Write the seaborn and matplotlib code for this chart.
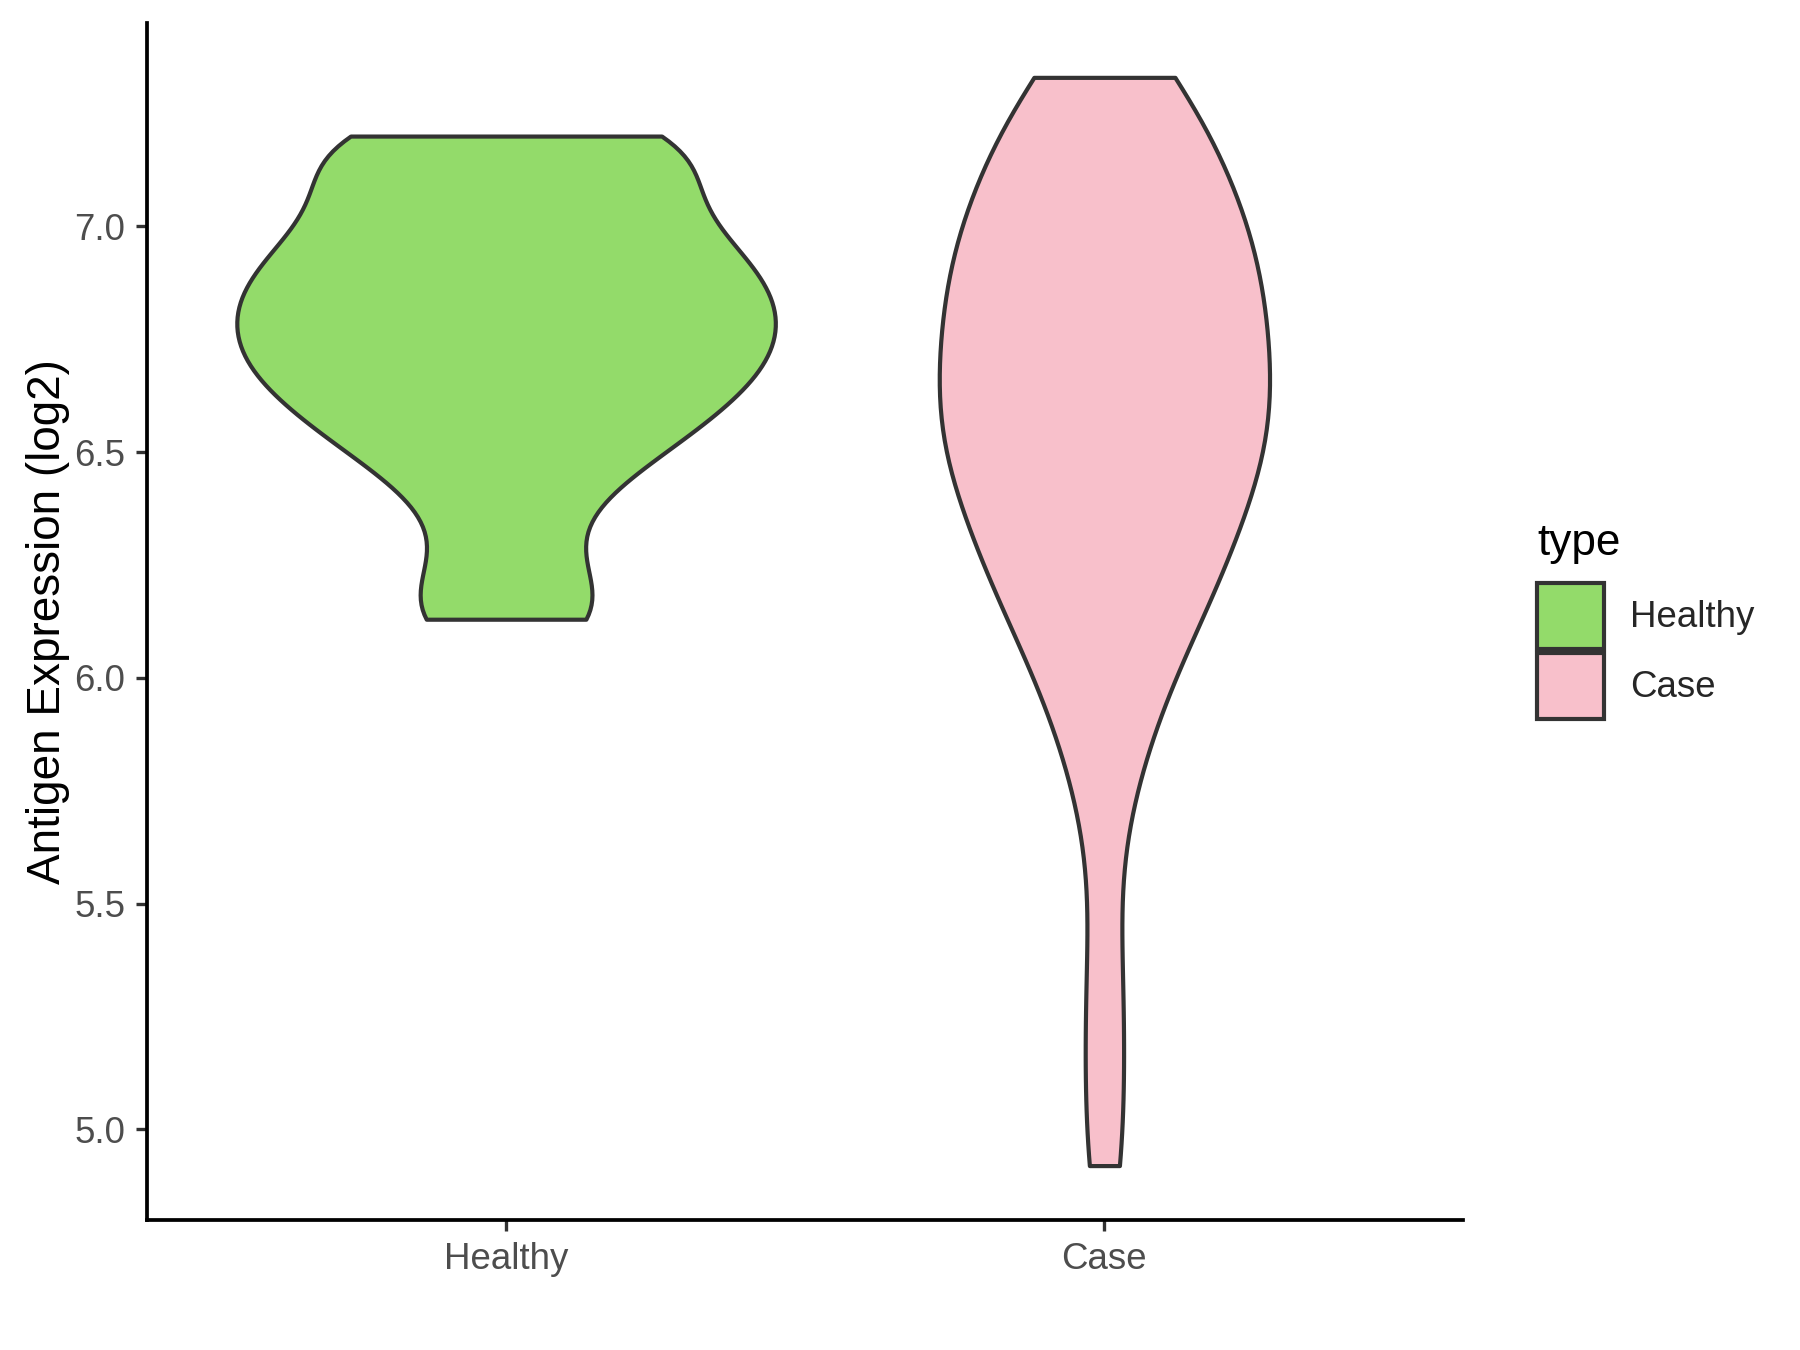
import pandas as pd
import numpy as np
import matplotlib
matplotlib.use('Agg')
import matplotlib.pyplot as plt
import seaborn as sns
from matplotlib.patches import Patch

# values
healthy_values = [6.13, 6.13, 6.15, 6.24, 6.34, 6.42, 6.47, 6.51,
                  6.53, 6.56, 6.59, 6.62, 6.64, 6.66, 6.68, 6.70, 6.72, 6.74,
                  6.76, 6.78, 6.80, 6.82, 6.84, 6.86, 6.88, 6.90, 6.92, 6.94,
                  6.97, 6.99, 7.02, 7.05, 7.09, 7.13, 7.18, 7.19, 7.19, 7.20,
                  7.20]
case_values = [4.92, 5.15, 5.38, 5.68, 5.86, 5.92, 6.01, 6.07, 6.14, 6.18,
               6.20, 6.23, 6.27, 6.31, 6.35, 6.38, 6.42, 6.45, 6.47, 6.49,
               6.52, 6.55, 6.58, 6.60, 6.61, 6.64, 6.67, 6.70, 6.73, 6.77,
               6.80, 6.82, 6.83, 6.86, 6.90, 6.93, 6.96, 6.99, 7.00, 7.03,
               7.07, 7.11, 7.15, 7.19, 7.25, 7.28, 7.31, 7.33]
groups = ['Healthy', 'Case']
colors = ['#93DB6A', '#F8C0CB']
y_ticks = [5.0, 5.5, 6.0, 6.5, 7.0]

df = pd.DataFrame({
    'type': ['Healthy'] * len(healthy_values) + ['Case'] * len(case_values),
    'value': healthy_values + case_values,
})

sns.set_style('white')
plt.rcParams['font.family'] = ['Liberation Sans', 'DejaVu Sans']

fig = plt.figure(figsize=(6, 4.5), dpi=300)
ax = fig.add_axes([0.0817, 0.0963, 0.7313, 0.8867])

sns.violinplot(data=df, x='type', y='value', hue='type', order=groups,
               hue_order=groups, palette=colors, saturation=1, cut=0,
               inner=None, density_norm='area', common_norm=True, width=0.9,
               linewidth=1.0, linecolor='#333333', bw_adjust=0.7,
               legend=False, ax=ax)
for coll in ax.collections:
    coll.set_joinstyle('round')

lo, hi = df['value'].min(), df['value'].max()
pad = 0.05 * (hi - lo)
ax.set_ylim(lo - pad, hi + pad)
ax.set_xlim(-0.6, 1.6)
ax.set_yticks(y_ticks)
ax.set_yticklabels([f'{t:.1f}' for t in y_ticks])

for s in ['top', 'right']:
    ax.spines[s].set_visible(False)
for s in ['left', 'bottom']:
    ax.spines[s].set_color('black')
    ax.spines[s].set_linewidth(0.9)
ax.tick_params(axis='both', length=2.75, width=0.8, color='#333333',
               labelcolor='#4D4D4D', labelsize=8.8, pad=2.5, left=True, bottom=True)
ax.set_xlabel('')
ax.set_ylabel('Antigen Expression (log2)', fontsize=11, color='black', labelpad=1)

# legend (ggplot style, title drawn separately)
fig.text(0.8539, 0.5889, 'type', fontsize=10.6, color='black', va='baseline', ha='left')
handles = [Patch(facecolor=c, edgecolor='#333333', linewidth=1.0) for c in colors]
fig.legend(handles, groups, loc='upper left', bbox_to_anchor=(0.8539, 0.5681),
           bbox_transform=fig.transFigure, frameon=False, fontsize=8.8,
           handlelength=1.84, handleheight=2.4, labelspacing=0.1,
           handletextpad=0.7, borderaxespad=0, borderpad=0)

fig.savefig('out.png', dpi=300)
